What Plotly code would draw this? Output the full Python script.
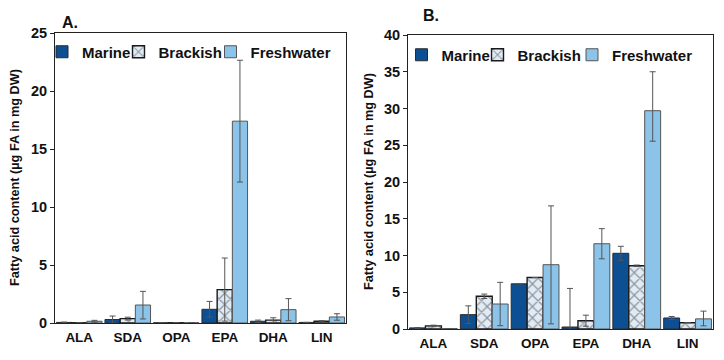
import plotly.graph_objects as go

categories = ["ALA", "SDA", "OPA", "EPA", "DHA", "LIN"]
series = ["Marine", "Brackish", "Freshwater"]

# Panel A values and errors
a_marine = [0.05, 0.30, 0.02, 1.18, 0.15, 0.05]
a_marine_err = [0.03, 0.30, 0.0, 0.68, 0.10, 0.0]
a_brackish = [0.02, 0.38, 0.02, 2.88, 0.25, 0.15]
a_brackish_err = [0.0, 0.12, 0.0, 2.72, 0.20, 0.05]
a_fresh = [0.15, 1.55, 0.02, 17.40, 1.15, 0.52]
a_fresh_err_plus = [0.08, 1.18, 0.0, 5.25, 0.95, 0.28]
a_fresh_err_minus = [0.08, 1.20, 0.0, 5.25, 0.95, 0.28]

# Panel B values and errors
b_marine = [0.15, 1.95, 6.15, 0.27, 10.3, 1.5]
b_marine_err = [0.05, 1.20, 0.0, 5.25, 0.95, 0.20]
b_brackish = [0.42, 4.45, 7.0, 1.13, 8.6, 0.85]
b_brackish_err = [0.10, 0.30, 0.0, 0.75, 0.10, 0.0]
b_fresh = [0.05, 3.40, 8.75, 11.6, 29.7, 1.38]
b_fresh_err_plus = [0.0, 2.95, 8.0, 2.05, 5.3, 1.05]
b_fresh_err_minus = [0.0, 2.95, 8.05, 2.05, 4.15, 0.95]

# page body has an 8px default margin; figure is sized to fit the window
OFF = 8
W, H = 724 - OFF, 360 - OFF
C_MARINE = "#0d4f93"
C_FRESH = "#8cc3e8"
C_BRACK_BG = "#e0ebf6"
OUTLINE = "#2b2b2b"
ERR = "#555555"
FONT = "Liberation Sans, Arial"


def px(x):
    return (x - OFF) / W


def py(y):
    return 1 - (y - OFF) / H


fig = go.Figure()


def add_panel(xa, ya, legs, m, me, b, be, f, fep, fem):
    fig.add_trace(go.Bar(
        x=categories, y=m, name=series[0], xaxis=xa, yaxis=ya, legend=legs[0],
        marker=dict(color=C_MARINE, line=dict(color=OUTLINE, width=1)),
        error_y=dict(type="data", array=me, color=ERR, thickness=1, width=3),
    ))
    fig.add_trace(go.Bar(
        x=categories, y=b, name=series[1], xaxis=xa, yaxis=ya, legend=legs[1],
        marker=dict(color=C_BRACK_BG, line=dict(color="#1a1a1a", width=1.4),
                    pattern=dict(shape="x", fgcolor="#3c3c3c", bgcolor=C_BRACK_BG,
                                 size=8, solidity=0.28)),
        error_y=dict(type="data", array=be, color=ERR, thickness=1, width=3),
    ))
    fig.add_trace(go.Bar(
        x=categories, y=f, name=series[2], xaxis=xa, yaxis=ya, legend=legs[2],
        marker=dict(color=C_FRESH, line=dict(color="#555555", width=1)),
        error_y=dict(type="data", array=fep, arrayminus=fem, symmetric=False,
                     color=ERR, thickness=1, width=3),
    ))


add_panel("x", "y", ["legend", "legend2", "legend3"], a_marine, a_marine_err,
          a_brackish, a_brackish_err, a_fresh, a_fresh_err_plus, a_fresh_err_minus)
add_panel("x2", "y2", ["legend4", "legend5", "legend6"], b_marine, b_marine_err,
          b_brackish, b_brackish_err, b_fresh, b_fresh_err_plus, b_fresh_err_minus)

xtickfont = dict(family=FONT, size=13.5, color="#111", weight="bold")
ytickfont = dict(family=FONT, size=14.5, color="#111", weight="bold")
axis_common = dict(showline=True, linecolor="#222", linewidth=1, mirror=True,
                   showgrid=False, zeroline=False, automargin=False)
xticks = dict(ticks="outside", ticklen=2, tickcolor="rgba(0,0,0,0)")


def leg(lx, ly):
    return dict(orientation="h", x=px(lx), y=py(ly), xanchor="left",
                yanchor="middle", font=dict(family=FONT, size=15, weight="bold",
                                             color="#111"),
                bgcolor="rgba(0,0,0,0)", borderwidth=0, visible=True)


fig.update_layout(
    width=W, height=H,
    margin=dict(l=0, r=0, t=0, b=0),
    paper_bgcolor="white", plot_bgcolor="white",
    showlegend=True,
    barmode="group", bargap=0.06, bargroupgap=0,
    font=dict(family=FONT, color="#111"),
    xaxis=dict(domain=[px(55), px(346)], anchor="y", tickfont=xtickfont,
               **xticks, **axis_common),
    yaxis=dict(domain=[py(323), py(33)], anchor="x", range=[0, 25], dtick=5,
               ticks="outside", ticklen=4, tickcolor="#222", tickfont=ytickfont,
               **axis_common),
    xaxis2=dict(domain=[px(408), px(713)], anchor="y2", tickfont=xtickfont,
                **xticks, **axis_common),
    yaxis2=dict(domain=[py(329), py(35)], anchor="x2", range=[0, 40], dtick=5,
                ticks="outside", ticklen=4, tickcolor="#222", tickfont=ytickfont,
                **axis_common),
    legend=leg(42, 52), legend2=leg(118.5, 52), legend3=leg(210.5, 52),
    legend4=leg(401.5, 55), legend5=leg(477.5, 55), legend6=leg(572, 55),
)

ylab = "Fatty acid content (µg FA in mg DW)"
anns = [
    dict(text="A.", x=px(70), y=py(22)),
    dict(text="B.", x=px(431), y=py(15)),
]
for a in anns:
    a.update(xref="paper", yref="paper", showarrow=False, xanchor="center",
             yanchor="middle", font=dict(family=FONT, size=16, weight="bold", color="#111"))
for xx, yy in [(15, 178), (369, 182)]:
    anns.append(dict(text=ylab, x=px(xx), y=py(yy), xref="paper", yref="paper",
                     showarrow=False, textangle=-90, xanchor="center", yanchor="middle",
                     font=dict(family=FONT, size=12.7, weight="bold", color="#111")))
fig.update_layout(annotations=anns)

fig.write_html("out.html")
